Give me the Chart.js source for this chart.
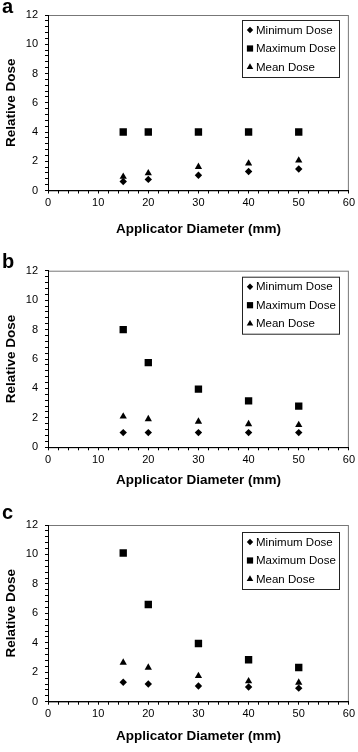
<!DOCTYPE html>
<html>
<head>
<meta charset="utf-8">
<script src="https://cdn.jsdelivr.net/npm/chart.js@4.4.0/dist/chart.umd.min.js"></script>
<style>
  body { margin: 0; background: #fff; }
  #wrap { position: relative; width: 358px; height: 752px; }
  canvas { position: absolute; left: 0; }
</style>
</head>
<body>
<div id="wrap">
  <canvas id="graficoA" width="358" height="250" style="top:0px"></canvas>
  <canvas id="graficoB" width="358" height="250" style="top:250px"></canvas>
  <canvas id="graficoC" width="358" height="252" style="top:500px"></canvas>
</div>
<script>
// dados
const diametros = [15, 20, 30, 40, 50];

const minimaA = [0.62, 0.76, 1.04, 1.3, 1.47];
const maximaA = [4.0, 4.0, 4.0, 4.0, 4.0];
const mediaA = [0.95, 1.18, 1.62, 1.85, 2.06];

const minimaB = [1.0, 1.0, 1.0, 1.0, 1.0];
const maximaB = [8.0, 5.75, 3.95, 3.15, 2.8];
const mediaB = [2.1, 1.92, 1.75, 1.58, 1.52];

const minimaC = [1.32, 1.2, 1.07, 1.0, 0.92];
const maximaC = [10.1, 6.6, 3.95, 2.85, 2.32];
const mediaC = [2.66, 2.32, 1.75, 1.4, 1.3];

const rotulosSerie = ['Minimum Dose', 'Maximum Dose', 'Mean Dose'];
const tituloX = 'Applicator Diameter (mm)';
const tituloY = 'Relative Dose';

Chart.defaults.font.family = "'Liberation Sans', Arial, sans-serif";
Chart.defaults.color = '#000';

function pontos(valores) {
  return diametros.map((d, i) => ({ x: d, y: valores[i] }));
}

// moldura cinza + legenda com caixa + letra do painel
const pluginMoldura = {
  id: 'moldura',
  beforeDraw(chart) {
    const a = chart.chartArea;
    const ctx = chart.ctx;
    ctx.save();
    ctx.strokeStyle = '#777';
    ctx.lineWidth = 1;
    ctx.strokeRect(a.left + 0.5, a.top + 0.5, a.right - a.left - 1, a.bottom - a.top);
    ctx.restore();
  },
  afterDraw(chart) {
    const cfg = chart.options.plugins.moldura;
    const ctx = chart.ctx;
    ctx.save();
    // letra
    ctx.fillStyle = '#000';
    ctx.font = "bold 20px 'Liberation Sans', Arial, sans-serif";
    ctx.textBaseline = 'alphabetic';
    ctx.textAlign = 'left';
    ctx.fillText(cfg.letra, 2, cfg.baseLetra);

    // caixa da legenda
    const bx = 242, by = chart.chartArea.top + cfg.legendaOffset, bw = 97, bh = 57;
    ctx.fillStyle = '#fff';
    ctx.fillRect(bx, by, bw, bh);
    ctx.strokeStyle = '#222';
    ctx.lineWidth = 1;
    ctx.strokeRect(bx + 0.5, by + 0.5, bw, bh);

    const estilos = chart.data.datasets.map(ds => ({ pointStyle: ds.pointStyle, radius: ds.legendRadius }));
    ctx.font = "11.5px 'Liberation Sans', Arial, sans-serif";
    ctx.textBaseline = 'middle';
    rotulosSerie.forEach((txt, i) => {
      const y = by + 10 + i * 18.5;
      ctx.fillStyle = '#000';
      Chart.helpers.drawPoint(ctx, { pointStyle: estilos[i].pointStyle, radius: estilos[i].radius, rotation: 0, borderWidth: 0 }, 250, y);
      ctx.fillStyle = '#000';
      ctx.fillText(txt, 256, y + 0.5);
    });
    ctx.restore();
  }
};

function criarGrafico(id, letra, minima, maxima, media, p) {
  const ctx = document.getElementById(id).getContext('2d');
  return new Chart(ctx, {
    type: 'scatter',
    data: {
      datasets: [
        { label: rotulosSerie[0], data: pontos(minima), pointStyle: 'rectRot', pointRadius: 3.7, legendRadius: 3.2,
          backgroundColor: '#000', borderColor: '#000', borderWidth: 0 },
        { label: rotulosSerie[1], data: pontos(maxima), pointStyle: 'rect', pointRadius: 5.2, legendRadius: 4.4,
          backgroundColor: '#000', borderColor: '#000', borderWidth: 0 },
        { label: rotulosSerie[2], data: pontos(media), pointStyle: 'triangle', pointRadius: 4.2, legendRadius: 3.8,
          backgroundColor: '#000', borderColor: '#000', borderWidth: 0 }
      ]
    },
    options: {
      responsive: false,
      animation: false,
      events: [],
      layout: { padding: { top: p.topo, right: 8, left: 0, bottom: 0 } },
      plugins: {
        legend: { display: false },
        tooltip: { enabled: false },
        moldura: { letra: letra, baseLetra: p.baseLetra, legendaOffset: p.legendaOffset }
      },
      scales: {
        x: {
          type: 'linear',
          position: 'bottom',
          min: 0,
          max: 60,
          afterFit: s => { s.height = p.altura - p.baseGrafico; },
          ticks: {
            stepSize: 2,
            autoSkip: false,
            maxRotation: 0,
            padding: 3,
            font: { size: 11 },
            callback: v => (v % 10 === 0 ? v : '')
          },
          grid: { drawOnChartArea: false, tickLength: 3, color: '#000', tickColor: '#000' },
          border: { color: '#000', width: 1 },
          title: {
            display: true,
            text: tituloX,
            font: { size: 13.5, weight: 'bold' },
            padding: { top: 0, bottom: p.padTitulo }
          }
        },
        y: {
          min: 0,
          max: 12,
          afterFit: s => { s.width = 48; },
          ticks: {
            stepSize: 0.4,
            autoSkip: false,
            padding: 7,
            font: { size: 11 },
            callback: v => (Math.abs(v / 2 - Math.round(v / 2)) < 1e-6 ? Math.round(v) : '')
          },
          grid: { drawOnChartArea: false, tickLength: 3, color: '#000', tickColor: '#000' },
          border: { color: '#000', width: 1 },
          title: {
            display: true,
            text: tituloY,
            font: { size: 13.5, weight: 'bold' },
            padding: { top: 3, bottom: 0 }
          }
        }
      }
    },
    plugins: [pluginMoldura]
  });
}

criarGrafico('graficoA', 'a', minimaA, maximaA, mediaA,
  { topo: 15, baseGrafico: 190.5, altura: 250, padTitulo: 13, baseLetra: 13, legendaOffset: 5 });
criarGrafico('graficoB', 'b', minimaB, maximaB, mediaB,
  { topo: 20.7, baseGrafico: 197.3, altura: 250, padTitulo: 12, baseLetra: 18, legendaOffset: 6 });
criarGrafico('graficoC', 'c', minimaC, maximaC, mediaC,
  { topo: 25, baseGrafico: 201.7, altura: 252, padTitulo: 8, baseLetra: 19, legendaOffset: 7 });
</script>
</body>
</html>
